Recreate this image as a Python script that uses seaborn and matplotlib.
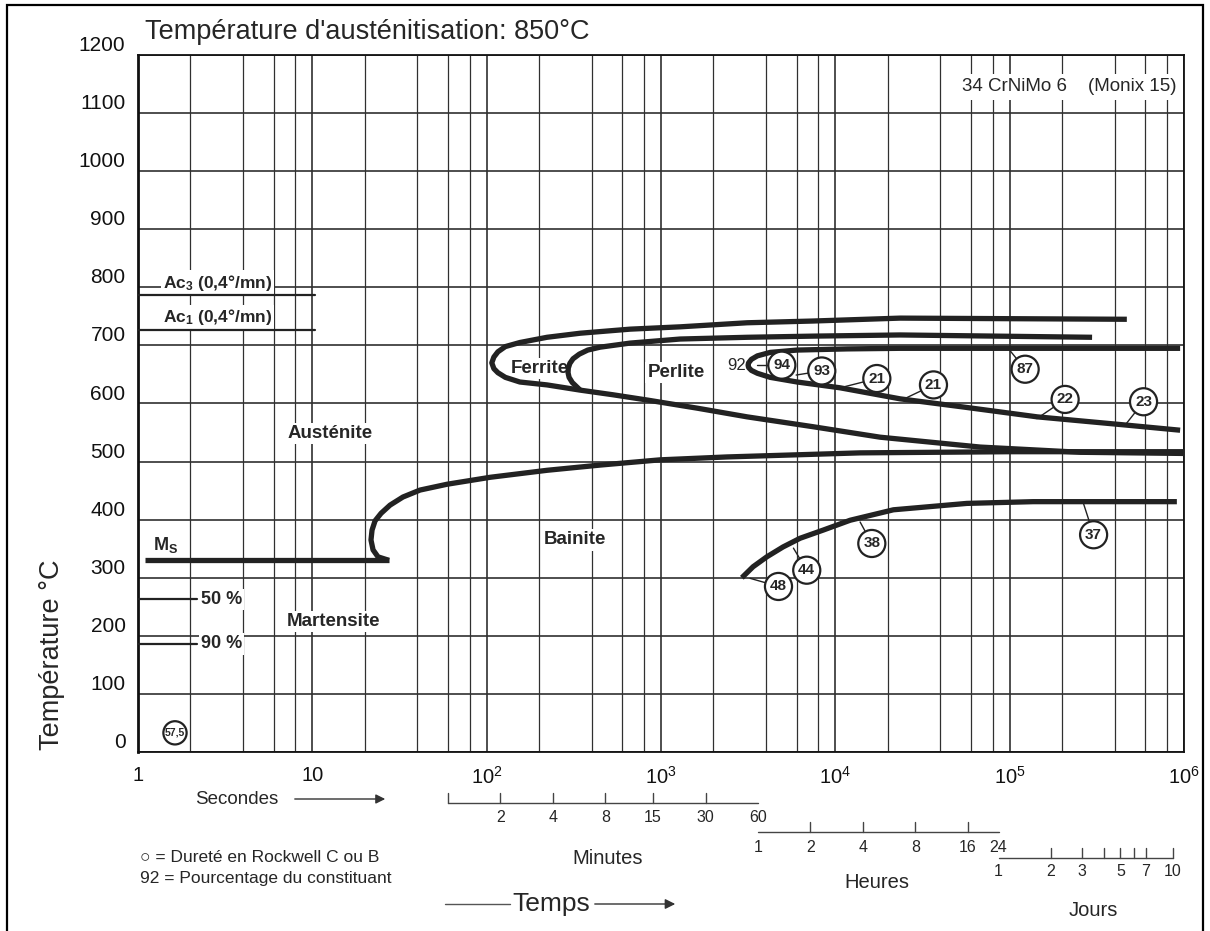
import numpy as np
import matplotlib
matplotlib.use("Agg")
import matplotlib.pyplot as plt
import seaborn as sns
from matplotlib.transforms import blended_transform_factory
from matplotlib.patches import Rectangle, FancyArrowPatch

# ---------------- data (time in s, temperature in °C) ----------------
ms_t = [1.1, 27.5]
ms_T = [330, 330]
bainite_start_t = [27.5, 23.8, 22.3, 21.7, 22.0, 22.9, 24.8, 27.9, 33.1, 41.5, 59.3, 105, 222, 448, 988,
                   2393, 13870, 1e5, 1e6]
bainite_start_T = [330, 336, 348, 365, 382, 398, 411, 425, 439, 451, 461, 473, 485, 494, 503,
                   508, 515, 517, 517]
ferrite_start_t = [4.7e5, 23550, 7460, 3120, 1288, 665, 344, 222, 155, 128, 116, 110, 107, 110, 116, 128,
                   155, 222, 344, 531, 832, 1610, 3120, 7460, 18070, 67800, 2.54e5, 1e6]
ferrite_start_T = [745, 747, 742, 739, 732, 728, 721, 714, 705, 698, 689, 680, 670, 660, 653, 645,
                   637, 632, 623, 615, 606, 592, 577, 560, 542, 525, 516, 514]
pearlite_start_t = [2.97e5, 23550, 7460, 3120, 1288, 665, 448, 380, 340, 313, 300, 294, 293, 297, 310, 344]
pearlite_start_T = [714, 718, 716, 714, 711, 704, 697, 692, 685, 677, 669, 661, 653, 645, 636, 623]
pearlite_end_t = [9.5e5, 23550, 11690, 6040, 4230, 3570, 3300, 3180, 3160, 3180, 3300, 3570, 4230, 6040,
                  10660, 23550, 54100, 1.44e5, 4.6e5, 9.5e5]
pearlite_end_T = [695, 695, 694, 692, 688, 682, 676, 670, 666, 662, 657, 652, 645, 637,
                  627, 608, 594, 577, 563, 554]
bainite_end_t = [2909, 3375, 4045, 5010, 6280, 8510, 12160, 21540, 56800, 1.365e5, 9.1e5]
bainite_end_T = [300, 319, 336, 353, 368, 382, 399, 417, 428, 431, 431]

ac3_T = 787
ac1_T = 727
m50_T = 263
m90_T = 186

circle_labels = ["57,5", "94", "93", "21", "21", "87", "22", "23", "48", "44", "38", "37"]
circle_t = [1.63, 4932, 8360, 17300, 36550, 1.227e5, 2.08e5, 5.86e5, 4720, 6855, 16190, 3.03e5]
circle_T = [33, 666, 656, 643, 632, 659, 607, 603, 285, 313, 359, 374]
leader_t = [None, 3570, 5960, 10660, 24060, 98000, 1.432e5, 4.6e5, 3245, 5750, 13870, 2.65e5]
leader_T = [None, 666, 649, 627, 606, 695, 574, 563, 299, 351, 396, 428]

phase_labels = ["Austénite", "Ferrite", "Perlite", "Bainite", "Martensite"]
phase_t = [12.6, 202, 1222, 321, 13.3]
phase_T = [549, 661, 654, 365, 225]

x_ticks = [1, 10, 100, 1e3, 1e4, 1e5, 1e6]
x_ticklabels = ["1", "10", r"$\mathregular{10^2}$", r"$\mathregular{10^3}$", r"$\mathregular{10^4}$",
                r"$\mathregular{10^5}$", r"$\mathregular{10^6}$"]
y_ticks = list(range(0, 1201, 100))

minute_ticks = [1, 2, 4, 8, 15, 30]
minute_labels = [2, 4, 8, 15, 30, 60]
hour_ticks = [2, 4, 8, 16]
hour_labels = [1, 2, 4, 8, 16, 24]
day_ticks = [2, 3, 4, 5, 6, 7, 10]
day_labels = [1, 2, 3, 5, 7, 10]

# ---------------- style ----------------
sns.set_style("white")
plt.rcParams['font.family'] = ['Liberation Sans', 'DejaVu Sans']
plt.rcParams['mathtext.fontset'] = 'custom'
plt.rcParams['mathtext.rm'] = 'Liberation Sans'
plt.rcParams['mathtext.it'] = 'Liberation Sans:italic'
plt.rcParams['mathtext.bf'] = 'Liberation Sans:bold'
NARROW = ['Liberation Sans Narrow', 'Liberation Sans', 'DejaVu Sans']
INK = '#222222'

W, H = 1210, 931
fig = plt.figure(figsize=(W / 100, H / 100), dpi=100)
ax = fig.add_axes([138 / W, 1 - 752 / H, (1184 - 138) / W, (752 - 55) / H])

curve_kw = dict(color=INK, linewidth=3.8, sort=False, estimator=None, ax=ax, zorder=5)
sns.lineplot(x=ms_t, y=ms_T, **curve_kw)
sns.lineplot(x=bainite_start_t, y=bainite_start_T, **curve_kw)
sns.lineplot(x=ferrite_start_t, y=ferrite_start_T, **curve_kw)
sns.lineplot(x=pearlite_start_t, y=pearlite_start_T, **curve_kw)
sns.lineplot(x=pearlite_end_t, y=pearlite_end_T, **curve_kw)
sns.lineplot(x=bainite_end_t, y=bainite_end_T, **curve_kw)
for ln in ax.get_lines():
    ln.set_solid_joinstyle('round')
    ln.set_solid_capstyle('butt')

ax.set_xscale('log')
ax.set_xlim(1, 1e6)
ax.set_ylim(0, 1200)
ax.set_xticks(x_ticks)
ax.set_xticklabels(x_ticklabels)
minor = [m * 10 ** k for k in range(6) for m in (2, 4, 6, 8)]
ax.set_xticks(minor, minor=True)
ax.set_xticklabels([], minor=True)
ax.set_yticks(y_ticks)
ax.set_yticklabels([str(v) for v in y_ticks])
ax.tick_params(axis='both', which='both', length=0, colors='#111111')
ax.tick_params(axis='y', pad=9, labelsize=15)
ax.tick_params(axis='x', pad=10, labelsize=14.5)
plt.setp(ax.get_yticklabels(), va='bottom')
ax.set_xlabel('')
ax.set_ylabel('')
ax.grid(which='major', axis='both', color='#303030', linewidth=1.2)
ax.grid(which='minor', axis='x', color='#303030', linewidth=0.9)
ax.set_axisbelow(True)
for side, sp in ax.spines.items():
    sp.set_visible(True)
    sp.set_color('#111111')
    sp.set_linewidth(1.3)
ax.spines['left'].set_linewidth(2)

# Ac / martensite percentage lines
ref_kw = dict(color=INK, linewidth=1.6, zorder=4)
ax.plot([1, 10.4], [ac3_T, ac3_T], **ref_kw)
ax.plot([1, 10.4], [ac1_T, ac1_T], **ref_kw)
ax.plot([1, 2.18], [m50_T, m50_T], **ref_kw)
ax.plot([1, 2.18], [m90_T, m90_T], **ref_kw)

wb = dict(facecolor='white', edgecolor='none', pad=1.5)
ax.text(2.85, ac3_T + 4, r'Ac$_\mathbf{3}$ (0,4°/mn)', family=NARROW, weight='bold', fontsize=12.5,
        ha='center', va='bottom', bbox=wb, zorder=3)
ax.text(2.85, ac1_T + 4, r'Ac$_\mathbf{1}$ (0,4°/mn)', family=NARROW, weight='bold', fontsize=12.5,
        ha='center', va='bottom', bbox=wb, zorder=3)
ax.text(2.3, m50_T, '50 %', family=NARROW, weight='bold', fontsize=13, ha='left', va='center',
        bbox=wb, zorder=3)
ax.text(2.3, m90_T, '90 %', family=NARROW, weight='bold', fontsize=13, ha='left', va='center',
        bbox=wb, zorder=3)
ax.text(1.22, ms_T[0] + 9, r'M$_\mathbf{S}$', family=NARROW, weight='bold', fontsize=13,
        ha='left', va='bottom', zorder=3)

for lab, t, T in zip(phase_labels, phase_t, phase_T):
    ax.text(t, T, lab, family=NARROW, weight='bold', fontsize=13.5, ha='center', va='center',
            bbox=wb, zorder=3)
ax.text(2733, 666, '92', family=NARROW, fontsize=12, ha='center', va='center', zorder=6)

# hardness circles with leaders
for lt, lT, ct, cT in zip(leader_t, leader_T, circle_t, circle_T):
    if lt is not None:
        ax.plot([lt, ct], [lT, cT], color=INK, linewidth=1.0, zorder=6)
sizes = [280 if lab == "57,5" else 380 for lab in circle_labels]
sns.scatterplot(x=circle_t, y=circle_T, s=sizes, marker='o', facecolor='white', edgecolor=INK,
                linewidth=1.6, ax=ax, zorder=7, legend=False)
for lab, t, T in zip(circle_labels, circle_t, circle_T):
    ax.text(t, T, lab, family=NARROW, weight='bold', fontsize=7.5 if len(lab) > 2 else 11,
            ha='center', va='center', zorder=8)

ax.text(0.993, 1145, '34 CrNiMo 6    (Monix 15)', transform=blended_transform_factory(ax.transAxes, ax.transData),
        ha='right', va='center', fontsize=13.5, bbox=dict(facecolor='white', edgecolor='none', pad=3), zorder=3)

# ---------------- figure texts ----------------
def fy(ypx):
    return 1 - ypx / H

def fx(xpx):
    return xpx / W

fig.text(fx(145), fy(32), "Température d'austénitisation: 850°C", fontsize=19.5, ha='left', va='center')
fig.text(fx(52), fy(655), 'Température °C', fontsize=19.5, rotation=90, ha='center', va='center')

bt = blended_transform_factory(ax.transData, fig.transFigure)
scale_kw = dict(color='#444444', linewidth=1.0, transform=bt, clip_on=False)
lab_kw = dict(fontsize=11.5, ha='center', va='center', transform=bt)

# minutes scale
y0 = fy(803)
fig.add_artist(plt.Line2D([60, 3600], [y0, y0], **scale_kw))
for m in minute_ticks:
    fig.add_artist(plt.Line2D([m * 60, m * 60], [y0, y0 + 10 / H], **scale_kw))
for m in minute_labels:
    fig.text(m * 60, fy(818), str(m), **lab_kw)
# hours scale
y1 = fy(832)
fig.add_artist(plt.Line2D([3600, 86400], [y1, y1], **scale_kw))
for h in hour_ticks:
    fig.add_artist(plt.Line2D([h * 3600, h * 3600], [y1, y1 + 10 / H], **scale_kw))
for h in hour_labels:
    fig.text(h * 3600, fy(847), str(h), **lab_kw)
# days scale
y2 = fy(858)
fig.add_artist(plt.Line2D([86400, 864000], [y2, y2], **scale_kw))
for d in day_ticks:
    fig.add_artist(plt.Line2D([d * 86400, d * 86400], [y2, y2 + 10 / H], **scale_kw))
for d in day_labels:
    fig.text(d * 86400, fy(872), str(d), **lab_kw)

fig.text(fx(608), fy(858), 'Minutes', fontsize=14.5, ha='center', va='center')
fig.text(fx(877), fy(883), 'Heures', fontsize=14.5, ha='center', va='center')
fig.text(fx(1093), fy(910), 'Jours', fontsize=14.5, ha='center', va='center')

fig.text(fx(237), fy(799), 'Secondes', fontsize=13.5, ha='center', va='center')
fig.add_artist(FancyArrowPatch((fx(292), fy(799)), (fx(388), fy(799)),
               transform=fig.transFigure, arrowstyle='-|>', mutation_scale=14, color='#333333', lw=1.0))

fig.text(fx(140), fy(858), '○ = Dureté en Rockwell C ou B', fontsize=12.5, ha='left', va='center')
fig.text(fx(140), fy(878), '92 = Pourcentage du constituant', fontsize=12.5, ha='left', va='center')

fig.text(fx(551), fy(904), 'Temps', fontsize=19, ha='center', va='center')
fig.add_artist(plt.Line2D([fx(445), fx(510)], [fy(904), fy(904)], color='#555555', lw=1.0))
fig.add_artist(FancyArrowPatch((fx(592), fy(904)), (fx(678), fy(904)),
               transform=fig.transFigure, arrowstyle='-|>', mutation_scale=15, color='#333333', lw=1.0))

fig.add_artist(Rectangle((fx(7), -0.01), fx(1203) - fx(7), fy(5) + 0.01, transform=fig.transFigure,
                         fill=False, edgecolor='black', linewidth=1.6))

fig.savefig('out.png', dpi=100)
